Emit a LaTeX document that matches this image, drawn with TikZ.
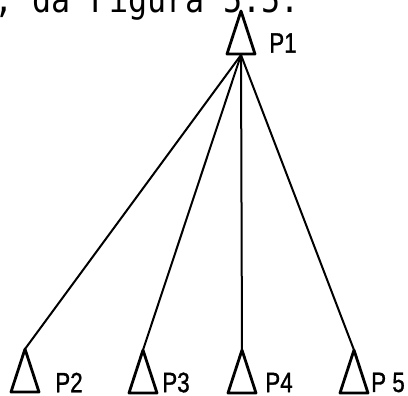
\documentclass[tikz,border=0pt]{standalone}
\usepackage{fontspec}
\newfontfamily\twfont{DejaVu Sans Mono}
\newfontfamily\lblfont[FakeBold=1.2]{Liberation Sans}
\tikzset{
  x=1pt,y=1pt,
  tristroke/.style={line width=2.8pt,line join=round},
  conn/.style={line width=2pt},
  lbl/.style={inner sep=0pt,font=\lblfont\fontsize{28}{30}\selectfont},
  tri/.pic={
    \draw[tristroke] (0,0) -- (-14,-43) -- (14,-43) -- cycle;
    \coordinate (-apex) at (0,0);
    \coordinate (-base) at (0,-44);
  }
}
\begin{document}
\begin{tikzpicture}
\useasboundingbox (0,0) rectangle (408,396);
\clip (0,0) rectangle (408,396);
% cut-off line of text at the top
\node[anchor=base west,inner sep=0pt] (cap) at (-5.5,383)
  {\scalebox{1}[1.15]{\twfont\fontsize{31.7}{32}\selectfont , da Figura 5.5.}};
% triangles
\pic (p1) at (241,385) {tri};
\pic (p2) at (25,47) {tri};
\pic (p3) at (143,46) {tri};
\pic (p4) at (242,46) {tri};
\pic (p5) at (354,46) {tri};
% labels
\node[lbl] (l1) at (283,353) {\scalebox{0.8}[1]{P1}};
\node[lbl] (l2) at (69,13.5) {\scalebox{0.8}[1]{P2}};
\node[lbl] (l3) at (176,13.5) {\scalebox{0.8}[1]{P3}};
\node[lbl] (l4) at (279,13.5) {\scalebox{0.8}[1]{P4}};
\node[lbl] (l5) at (388,13.5) {\scalebox{0.8}[1]{P 5}};
% connectors
\draw[conn] (p1-base) -- (p2-apex);
\draw[conn] (p1-base) -- (p3-apex);
\draw[conn] (p1-base) -- (p4-apex);
\draw[conn] (p1-base) -- (p5-apex);
\end{tikzpicture}
\end{document}
